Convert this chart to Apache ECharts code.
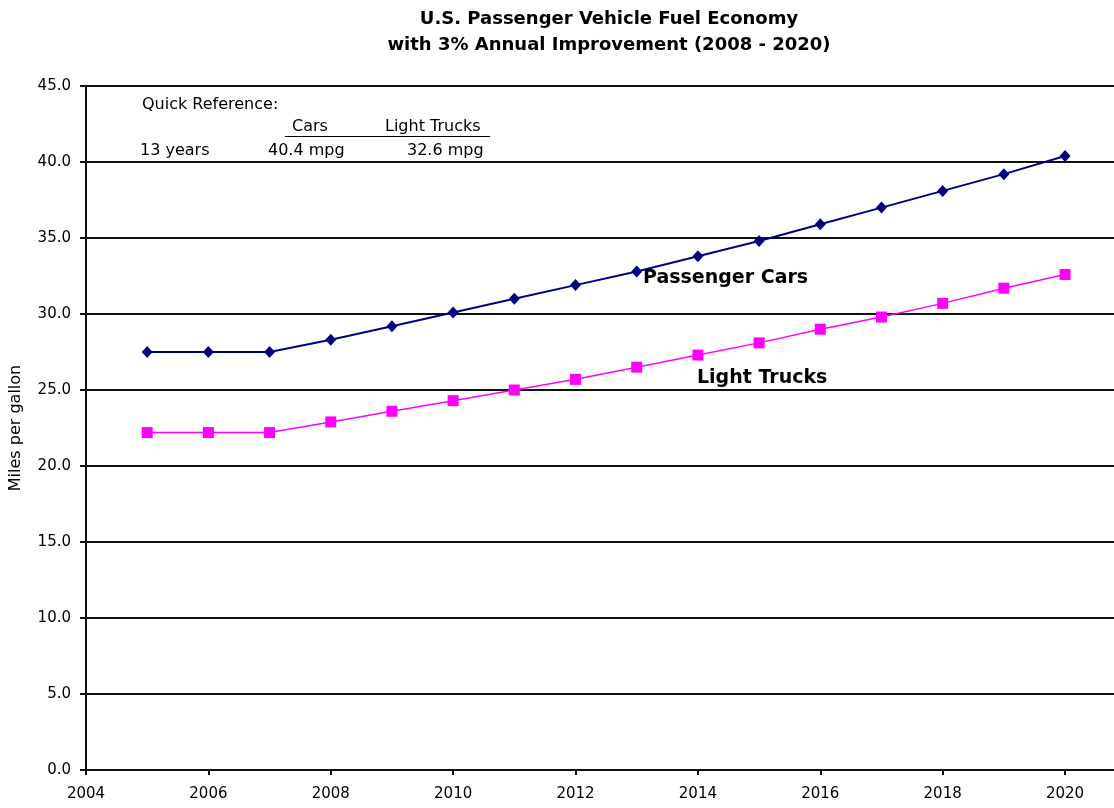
<!DOCTYPE html>
<html>
<head>
<meta charset="utf-8">
<title>U.S. Passenger Vehicle Fuel Economy</title>
<script src="https://cdn.jsdelivr.net/npm/echarts@6/dist/echarts.min.js"></script>
<style>
  html, body { margin: 0; padding: 0; background: #fff; }
  #chart { width: 1114px; height: 808px; }
</style>
</head>
<body>
<div id="chart"></div>
<script>
// data
const years = [2005, 2006, 2007, 2008, 2009, 2010, 2011, 2012, 2013, 2014, 2015, 2016, 2017, 2018, 2019, 2020]
const carMpg = [27.5, 27.5, 27.5, 28.3, 29.2, 30.1, 31.0, 31.9, 32.8, 33.8, 34.8, 35.9, 37.0, 38.1, 39.2, 40.4]
const truckMpg = [22.2, 22.2, 22.2, 22.9, 23.6, 24.3, 25.0, 25.7, 26.5, 27.3, 28.1, 29.0, 29.8, 30.7, 31.7, 32.6]

const titleLines = ['U.S. Passenger Vehicle Fuel Economy', 'with 3% Annual Improvement (2008 - 2020)']
const yAxisTitle = 'Miles per gallon'
const refHeader = ['Quick Reference:', 'Cars', 'Light Trucks']
const refRow = ['13 years', '40.4 mpg', '32.6 mpg']
const seriesLabels = ['Passenger Cars', 'Light Trucks']

const font = 'DejaVu Sans'
const chart = echarts.init(document.getElementById('chart'))

const toPairs = (vals) => vals.map((v, i) => [years[i], v])

const option = {
  animation: false,
  backgroundColor: '#fff',
  title: {
    text: titleLines.join('\n'),
    left: 604,
    top: 1,
    textAlign: 'center',
    textStyle: {
      fontFamily: font,
      fontSize: 18,
      fontWeight: 'bold',
      color: '#000',
      lineHeight: 26
    }
  },
  grid: {
    left: 86,
    right: 0,
    top: 86,
    bottom: 38
  },
  xAxis: {
    type: 'value',
    min: 2004,
    max: 2020.8,
    interval: 2,
    axisLine: { lineStyle: { color: '#111', width: 2 } },
    axisTick: { show: true, inside: false, length: 5, lineStyle: { color: '#111', width: 2 } },
    axisLabel: {
      showMaxLabel: false,
      margin: 17,
      fontFamily: font,
      fontSize: 15,
      color: '#000',
      formatter: (v) => (v % 2 === 0 ? String(v) : '')
    },
    splitLine: { show: false }
  },
  yAxis: {
    type: 'value',
    min: 0,
    max: 45,
    interval: 5,
    name: yAxisTitle,
    nameLocation: 'middle',
    nameGap: 62,
    nameTextStyle: { fontFamily: font, fontSize: 16, color: '#000' },
    axisLine: { show: true, lineStyle: { color: '#111', width: 2 } },
    axisTick: { show: true, inside: false, length: 6, lineStyle: { color: '#111', width: 2 } },
    axisLabel: {
      margin: 15,
      fontFamily: font,
      fontSize: 15,
      color: '#000',
      formatter: (v) => v.toFixed(1)
    },
    splitLine: { lineStyle: { color: '#111', width: 2 } }
  },
  series: [
    {
      name: seriesLabels[0],
      type: 'line',
      data: toPairs(carMpg),
      symbol: 'diamond',
      symbolSize: [11, 12],
      lineStyle: { color: '#000080', width: 2 },
      itemStyle: { color: '#000080' },
      z: 3
    },
    {
      name: seriesLabels[1],
      type: 'line',
      data: toPairs(truckMpg),
      symbol: 'rect',
      symbolSize: 11,
      lineStyle: { color: '#ff00ff', width: 1.5 },
      itemStyle: { color: '#ff00ff' },
      z: 3
    }
  ],
  graphic: [
    // quick reference block
    { type: 'text', left: 142, top: 97, style: { text: refHeader[0], font: '16px ' + font, fill: '#000' } },
    { type: 'text', left: 292, top: 119, style: { text: refHeader[1], font: '16px ' + font, fill: '#000' } },
    { type: 'text', left: 385, top: 119, style: { text: refHeader[2], font: '16px ' + font, fill: '#000' } },
    { type: 'line', shape: { x1: 285, y1: 136.5, x2: 490, y2: 136.5 }, style: { stroke: '#000', lineWidth: 1 } },
    { type: 'text', left: 140, top: 143, style: { text: refRow[0], font: '16px ' + font, fill: '#000' } },
    { type: 'text', left: 268, top: 143, style: { text: refRow[1], font: '16px ' + font, fill: '#000' } },
    { type: 'text', left: 407, top: 143, style: { text: refRow[2], font: '16px ' + font, fill: '#000' } },
    // series labels
    { type: 'text', left: 643, top: 269, style: { text: seriesLabels[0], font: 'bold 19px ' + font, fill: '#000' } },
    { type: 'text', left: 697, top: 369, style: { text: seriesLabels[1], font: 'bold 19px ' + font, fill: '#000' } }
  ]
}

chart.setOption(option)
window.addEventListener('resize', () => chart.resize())
</script>
</body>
</html>
